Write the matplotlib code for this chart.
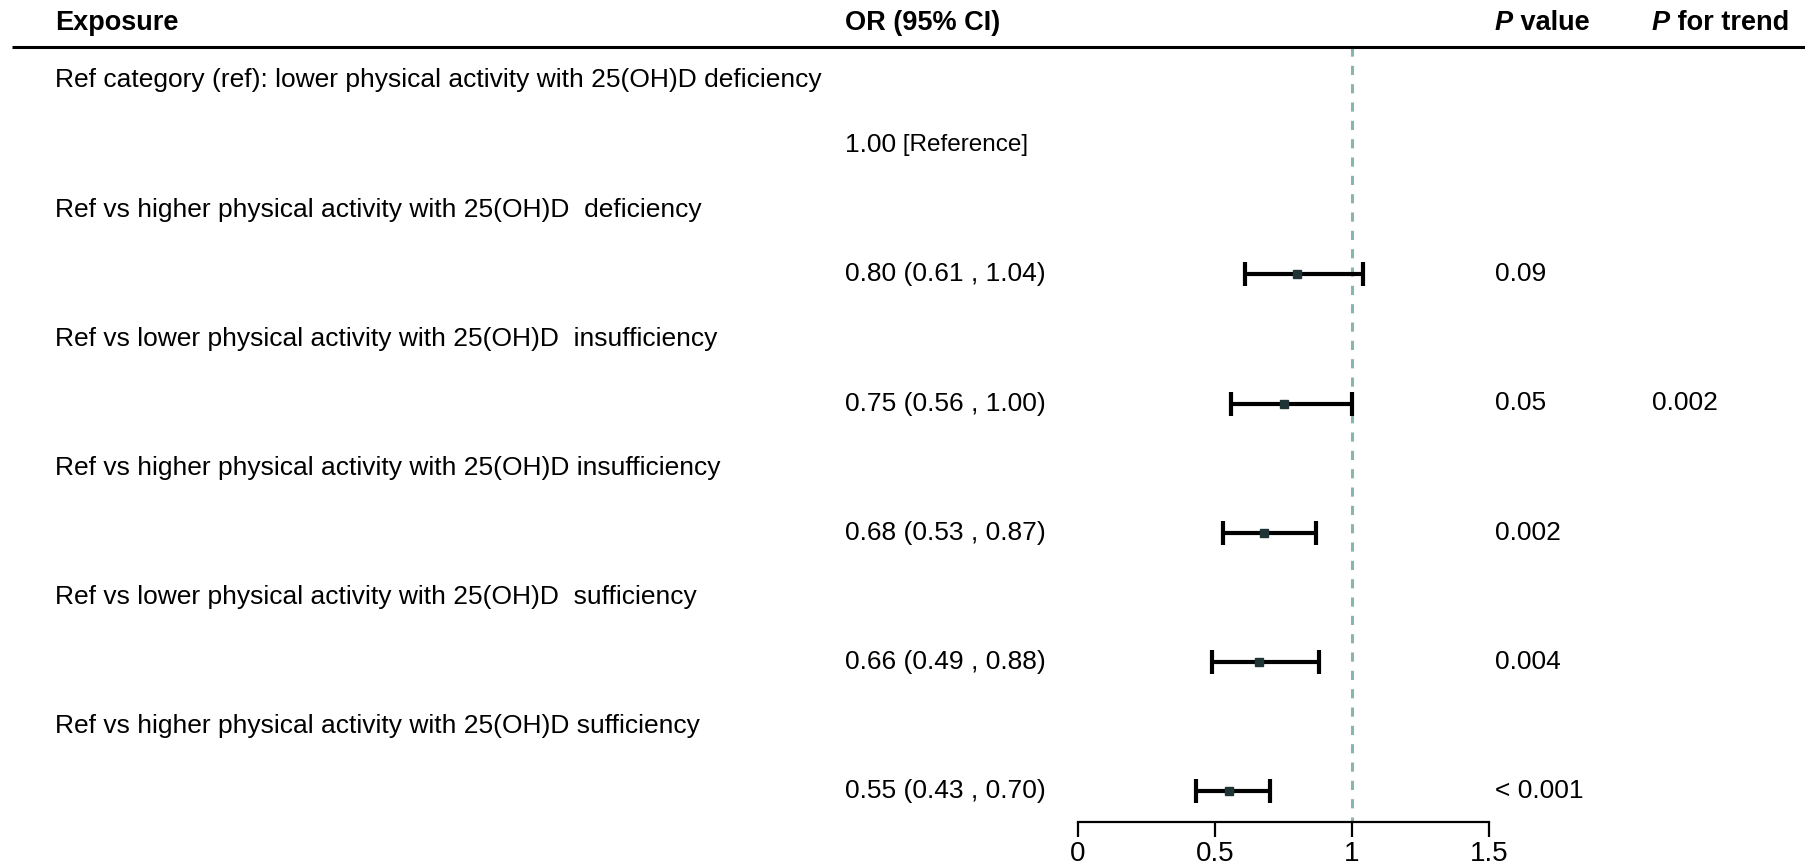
import matplotlib
matplotlib.use("Agg")
import matplotlib.pyplot as plt
import matplotlib.transforms as mtransforms

plt.rcParams["font.family"] = ["Liberation Sans", "DejaVu Sans"]

# ── Data ─────────────────────────────────────────────────────────────────────
ref_label = "Ref category (ref): lower physical activity with 25(OH)D deficiency"
labels = [
    "Ref vs higher physical activity with 25(OH)D  deficiency",
    "Ref vs lower physical activity with 25(OH)D  insufficiency",
    "Ref vs higher physical activity with 25(OH)D insufficiency",
    "Ref vs lower physical activity with 25(OH)D  sufficiency",
    "Ref vs higher physical activity with 25(OH)D sufficiency",
]
or_est = [0.80, 0.75, 0.68, 0.66, 0.55]
ci_low = [0.61, 0.56, 0.53, 0.49, 0.43]
ci_high = [1.04, 1.00, 0.87, 0.88, 0.70]
p_values = ["0.09", "0.05", "0.002", "0.004", "< 0.001"]
p_trend = ["", "0.002", "", "", ""]
x_ticks = [0, 0.5, 1, 1.5]
x_tick_labels = ["0", "0.5", "1", "1.5"]

# ── Layout ───────────────────────────────────────────────────────────────────
W, H, DPI = 1805, 868, 100
X0_PX, UNIT_PX = 1078, 274      # pixel of OR=0 and pixels per OR unit
ROW0_PX, ROW_PX = 80.5, 64.6    # first row centre and row spacing (pixels)
AXIS_PX = 822                   # y of the OR axis line
COL_LABEL, COL_OR, COL_P, COL_TREND = 55 / W, 845 / W, 1495 / W, 1652 / W
FS = 19
FS_HEAD = 19.5
DASH_COLOR = "#88b6ae"
MARK_COLOR = "#1f3434"

fig = plt.figure(figsize=(W / DPI, H / DPI), dpi=DPI)
ax = fig.add_axes([0, (H - AXIS_PX) / H, 1, AXIS_PX / H])
ax.set_xlim(-X0_PX / UNIT_PX, (W - X0_PX) / UNIT_PX)
ax.set_ylim((AXIS_PX - ROW0_PX) / ROW_PX, -ROW0_PX / ROW_PX)

for s in ("top", "left", "right"):
    ax.spines[s].set_visible(False)
ax.spines["bottom"].set_bounds(x_ticks[0], x_ticks[-1])
ax.spines["bottom"].set_linewidth(1.6)
ax.set_yticks([])
ax.set_xticks(x_ticks)
ax.set_xticklabels(x_tick_labels)
ax.tick_params(axis="x", direction="out", length=11, width=1.6,
               labelsize=20, pad=2.5)

tr = mtransforms.blended_transform_factory(ax.transAxes, ax.transData)

# header
y_head = (23 - ROW0_PX) / ROW_PX
y_line = (47 - ROW0_PX) / ROW_PX
ax.plot([12 / W, 1], [y_line, y_line], color="black", lw=2.2,
        transform=tr, clip_on=False, solid_capstyle="butt")
ax.text(COL_LABEL, y_head, "Exposure", transform=tr, fontsize=FS_HEAD,
        fontweight="bold", va="center")
ax.text(COL_OR, y_head, "OR (95% CI)", transform=tr, fontsize=FS_HEAD,
        fontweight="bold", va="center")
for col, rest in ((COL_P, " value"), (COL_TREND, " for trend")):
    pt = ax.text(col, y_head, "P", transform=tr, fontsize=FS_HEAD,
                 fontweight="bold", fontstyle="italic", va="center")
    ax.annotate(rest, xy=(1, 0.5), xycoords=pt, fontsize=FS_HEAD,
                fontweight="bold", va="center", ha="left")

# reference line
ax.plot([1, 1], [y_line, ax.get_ylim()[0]], color=DASH_COLOR, lw=2.2,
        dashes=(3.0, 3.0), zorder=1)

# reference category
ax.text(COL_LABEL, 0, ref_label, transform=tr, fontsize=FS, va="center")
t_ref = ax.text(COL_OR, 1, "1.00", transform=tr, fontsize=FS, va="center")
ax.annotate(" [Reference]", xy=(1, 0.5), xycoords=t_ref, fontsize=17.5,
            va="center", ha="left")

# comparison rows
for i, lab in enumerate(labels):
    y_lab = 2 + 2 * i
    y_dat = y_lab + 1
    ax.text(COL_LABEL, y_lab, lab, transform=tr, fontsize=FS, va="center")
    ax.text(COL_OR, y_dat,
            f"{or_est[i]:.2f} ({ci_low[i]:.2f} , {ci_high[i]:.2f})",
            transform=tr, fontsize=FS, va="center")
    ax.text(COL_P, y_dat, p_values[i], transform=tr, fontsize=FS, va="center")
    if p_trend[i]:
        ax.text(COL_TREND, y_dat, p_trend[i], transform=tr, fontsize=FS,
                va="center")
    ax.errorbar(or_est[i], y_dat,
                xerr=[[or_est[i] - ci_low[i]], [ci_high[i] - or_est[i]]],
                fmt="s", color="black", ecolor="black", elinewidth=3.0,
                capsize=8.5, capthick=3.0, ms=6, mfc=MARK_COLOR,
                mec=MARK_COLOR, zorder=3)

fig.savefig("out.png", dpi=DPI)
